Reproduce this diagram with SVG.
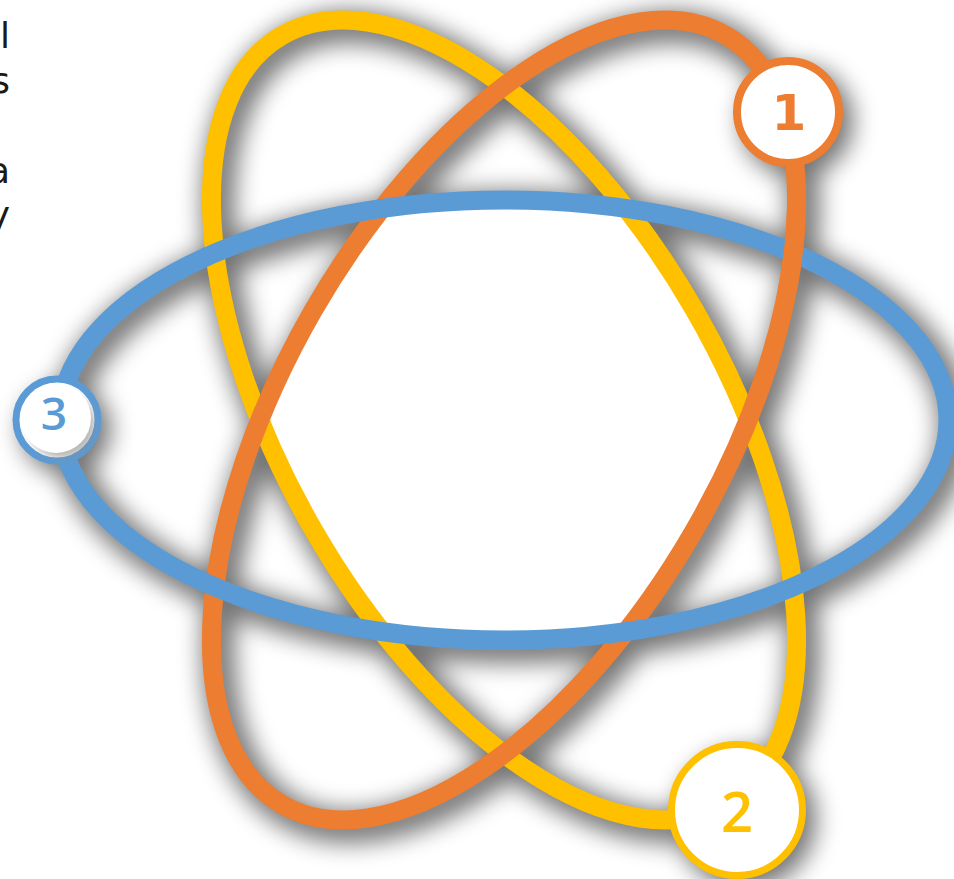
<svg xmlns="http://www.w3.org/2000/svg" width="954" height="879" viewBox="0 0 954 879">
  <style>
    .ring { fill: none; stroke-width: 19; }
    .sh { fill: none; stroke: #000; stroke-width: 32; }
    .side { font-family: "DejaVu Sans", "Liberation Sans", sans-serif; font-size: 36px; fill: #1a1a1a; text-anchor: end; }
    .num { font-family: "Open Sans", "DejaVu Sans", sans-serif; font-weight: 600; text-anchor: middle; }
    .num1 { font-family: "DejaVu Sans", "Liberation Sans", sans-serif; font-weight: bold; text-anchor: middle; }
  </style>
  <defs>
    <ellipse id="orb" cx="504" cy="420" rx="444" ry="220"/>
    <filter id="shadow" x="-20%" y="-20%" width="140%" height="140%">
      <feGaussianBlur stdDeviation="12"/>
      <feOffset dx="7" dy="7"/>
    </filter>
    <filter id="soft" x="-30%" y="-30%" width="160%" height="160%">
      <feGaussianBlur stdDeviation="3"/>
    </filter>
    <clipPath id="clipBlue"><ellipse cx="504" cy="420" rx="444" ry="220"/></clipPath>
    <clipPath id="clipYellow"><ellipse cx="504" cy="420" rx="444" ry="220" transform="rotate(60 504 420)"/></clipPath>
    <clipPath id="clipPatch"><rect x="768" y="212" width="62" height="76"/></clipPath>
  </defs>

  <rect width="954" height="879" fill="#fff"/>

  <!-- left clipped text -->
  <g id="side-text">
    <text class="side" x="10" y="48">l</text>
    <text class="side" x="10" y="93">s</text>
    <text class="side" x="10" y="183">a</text>
    <text class="side" x="10" y="227">y</text>
  </g>

  <!-- shadows -->
  <g id="shadows" filter="url(#shadow)" opacity="0.55">
    <use href="#orb" class="sh" transform="rotate(60 504 420)"/>
    <use href="#orb" class="sh" transform="rotate(-60 504 420)"/>
    <use href="#orb" class="sh"/>
    <circle cx="790" cy="114" r="56" fill="#000"/>
    <circle cx="739" cy="812" r="70" fill="#000"/>
    <circle cx="59" cy="422" r="45" fill="#000"/>
  </g>

  <!-- white core (intersection of the three orbits) -->
  <g id="core" clip-path="url(#clipYellow)">
    <g clip-path="url(#clipBlue)">
      <use href="#orb" fill="#fff" transform="rotate(-60 504 420)"/>
    </g>
  </g>

  <g id="connectors">
    <use id="orbit-yellow" href="#orb" class="ring" stroke="#FFC000" transform="rotate(60 504 420)"/>
    <use id="orbit-orange" href="#orb" class="ring" stroke="#ED7D31" transform="rotate(-60 504 420)"/>
    <use id="orbit-blue" href="#orb" class="ring" stroke="#5B9BD5"/>
    <g clip-path="url(#clipPatch)">
      <use href="#orb" class="ring" stroke="#ED7D31" transform="rotate(-60 504 420)"/>
    </g>
  </g>

  <g id="node-1">
    <circle cx="788" cy="112" r="51" fill="#fff" stroke="#ED7D31" stroke-width="8"/>
    <text class="num1" x="789" y="130" font-size="50" fill="#ED7D31">1</text>
  </g>

  <g id="node-2">
    <circle cx="737" cy="810" r="65.5" fill="#fff" stroke="#FFC000" stroke-width="7"/>
    <text class="num" x="737" y="832" font-size="56" fill="#FFC000">2</text>
  </g>

  <g id="node-3">
    <circle cx="57" cy="420" r="41" fill="#fff" stroke="#5B9BD5" stroke-width="7"/>
    <circle cx="61" cy="424" r="34" fill="#8a8a8a" filter="url(#soft)" opacity="0.6"/>
    <circle cx="56" cy="418" r="35" fill="#fff"/>
    <text class="num" x="54" y="430" font-size="46" fill="#5B9BD5">3</text>
  </g>
</svg>
